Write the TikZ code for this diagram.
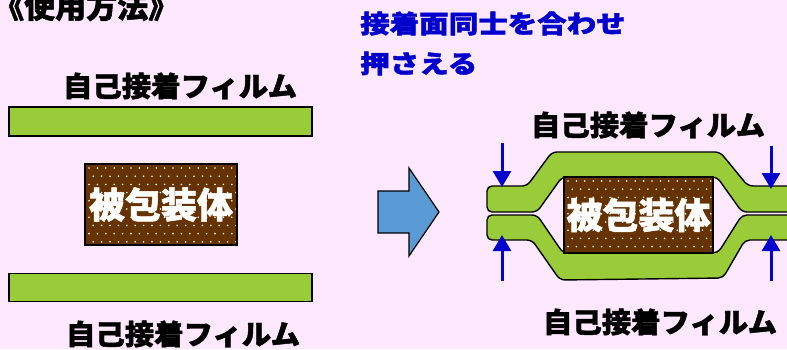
\documentclass[tikz,border=0pt]{standalone}
\usepackage{fontspec}
\setmainfont{Noto Sans CJK JP}[BoldFeatures={FakeBold=1.5}]
\usetikzlibrary{arrows.meta}
\definecolor{bg}{RGB}{253,232,253}
\definecolor{filmgreen}{RGB}{154,204,58}
\definecolor{bodybrown}{RGB}{102,51,0}
\definecolor{arrowblue}{RGB}{91,155,213}
\definecolor{textblue}{RGB}{0,0,204}
\tikzset{
  film/.style={draw=black, line width=1.4pt, fill=filmgreen, inner sep=0pt},
  curvedfilm/.style={draw=black, line width=1.4pt, fill=filmgreen, rounded corners=5pt},
  body/.style={draw=black, line width=1.4pt, fill=bodybrown, text=white, inner sep=0pt,
    font=\fontsize{36}{36}\selectfont\bfseries,
    path picture={
      \foreach \j in {0,...,10}{
        \foreach \i in {0,...,19}{
          \fill[white] ([xshift={4pt+8.4pt*\i+4.2pt*mod(\j,2)}, yshift={-4pt-8.2pt*\j}]path picture bounding box.north west) circle (0.9pt);
        }
      }
    }},
  label/.style={text=black, font=\fontsize{28}{28}\selectfont\bfseries, inner sep=0pt},
  bluetext/.style={text=textblue, font=\fontsize{25}{25}\selectfont\bfseries, inner sep=0pt, anchor=base west, xscale=1.18},
  pressarrow/.style={draw=textblue, line width=3pt, -{Triangle[width=18pt,length=16pt]}},
  blockarrow/.style={draw=black, line width=1.2pt, fill=arrowblue, line join=miter}
}
\begin{document}
\begin{tikzpicture}[x=1pt,y=-1pt]
\fill[bg] (0,0) rectangle (787,349);
\useasboundingbox (0,0) rectangle (787,349);

% title
\node[label, anchor=base west, font=\fontsize{31}{31}\selectfont\bfseries] (title) at (-7,18) {《使用方法》};

% left side
\node[label, xscale=1.05] (lbl1) at (180,86) {自己接着フィルム};
\node[film, minimum width=303pt, minimum height=29pt] (film1) at (160.5,121.5) {};
\node[body, minimum width=152pt, minimum height=81pt] (body1) at (161,204.5) {被包装体};
\node[film, minimum width=303pt, minimum height=28pt] (film2) at (160.5,287.5) {};
\node[label, xscale=1.05] (lbl2) at (183,334) {自己接着フィルム};

% block arrow
\draw[blockarrow] (378,191) -- (409,191) -- (409,168) -- (439,212) -- (409,256) -- (409,233) -- (378,233) -- cycle;

% blue text
\node[bluetext] (step1) at (360,33) {接着面同士を合わせ};
\node[bluetext] (step2) at (360,73) {押さえる};

% right side films
\draw[curvedfilm] (487,186) -- (527,186) -- (552,152) -- (720,152) -- (748,186) -- (800,186)
  -- (800,212) -- (742,212) -- (717,177) -- (562,177) -- (537,212) -- (487,212) -- cycle;
\draw[curvedfilm] (487,215) -- (537,215) -- (563,253) -- (718,253) -- (742,215) -- (800,215)
  -- (800,240) -- (745,240) -- (723,278) -- (560,280) -- (532,240) -- (487,240) -- cycle;
\node[body, minimum width=149pt, minimum height=76pt] (body2) at (638.5,215) {被包装体};

\node[label, xscale=1.05] (lbl3) at (648,125) {自己接着フィルム};
\node[label, xscale=1.05] (lbl4) at (660,322) {自己接着フィルム};

% press arrows
\coordinate (a1s) at (502,143); \coordinate (a1e) at (502,187);
\coordinate (a2s) at (502,281); \coordinate (a2e) at (502,235);
\coordinate (a3s) at (771,146); \coordinate (a3e) at (771,189);
\coordinate (a4s) at (771,281); \coordinate (a4e) at (771,235);
\draw[pressarrow] (a1s) -- (a1e);
\draw[pressarrow] (a2s) -- (a2e);
\draw[pressarrow] (a3s) -- (a3e);
\draw[pressarrow] (a4s) -- (a4e);
\end{tikzpicture}
\end{document}
